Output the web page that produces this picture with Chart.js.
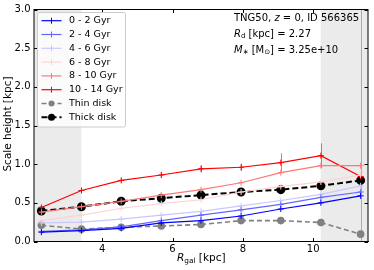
<!DOCTYPE html>
<html>
<head>
<meta charset="utf-8">
<script src="https://cdn.jsdelivr.net/npm/chart.js@4.4.1/dist/chart.umd.min.js"></script>
<style>
  body { margin: 0; background: #fff; }
  canvas { display: block; }
</style>
</head>
<body>
<canvas id="chart" width="374" height="270"></canvas>
<script>
// radii where scale heights were measured (kpc)
const rGal = [2.27, 3.41, 4.54, 5.68, 6.81, 7.95, 9.08, 10.22, 11.35];

// scale heights per stellar age bin (kpc)
const age0to2 = [0.12, 0.14, 0.17, 0.24, 0.27, 0.33, 0.42, 0.50, 0.59];
const age2to4 = [0.13, 0.15, 0.19, 0.27, 0.34, 0.41, 0.48, 0.57, 0.64];
const age4to6 = [0.24, 0.25, 0.29, 0.34, 0.39, 0.46, 0.53, 0.61, 0.72];
const age6to8 = [0.27, 0.34, 0.43, 0.49, 0.54, 0.64, 0.71, 0.77, 0.86];
const age8to10 = [0.38, 0.45, 0.52, 0.60, 0.67, 0.76, 0.89, 0.98, 0.98];
const age10to14 = [0.44, 0.66, 0.79, 0.86, 0.94, 0.96, 1.02, 1.11, 0.84];
const thinDisk = [0.21, 0.16, 0.185, 0.20, 0.22, 0.27, 0.27, 0.245, 0.095];
const thickDisk = [0.395, 0.45, 0.52, 0.56, 0.60, 0.64, 0.67, 0.72, 0.79];

// errors (kpc), only the visible ones
const err10to14 = [0.01, 0.03, 0.03, 0.04, 0.05, 0.05, 0.12, 0.16, 0.02];
const errThin = [0.02, 0.02, 0.02, 0.02, 0.02, 0.02, 0.04, 0.05, 5];

const labels = ['0 - 2 Gyr', '2 - 4 Gyr', '4 - 6 Gyr', '6 - 8 Gyr', '8 - 10 Gyr', '10 - 14 Gyr', 'Thin disk', 'Thick disk'];
const yTicks = [0, 0.5, 1.0, 1.5, 2.0, 2.5, 3.0];
const xTicks = [4, 6, 8, 10];

const Rd = 2.27;
const shadeLo = 1.5 * Rd;
const shadeHi = 4.5 * Rd;

const FONT = '"DejaVu Sans", sans-serif';

function pts(vals) {
    return rGal.map((r, i) => ({ x: r, y: vals[i] }));
}

function ageSet(label, vals, color, err) {
    return {
        label: label,
        data: pts(vals),
        borderColor: color,
        backgroundColor: color,
        borderWidth: 1.2,
        pointStyle: 'cross',
        pointRadius: 3,
        pointBorderWidth: 1,
        tension: 0,
        errors: err
    };
}

const datasets = [
    ageSet(labels[0], age0to2, 'rgb(0,0,255)'),
    ageSet(labels[1], age2to4, 'rgb(102,102,255)'),
    ageSet(labels[2], age4to6, 'rgb(200,200,255)'),
    ageSet(labels[3], age6to8, 'rgb(255,210,210)'),
    ageSet(labels[4], age8to10, 'rgb(255,120,120)'),
    ageSet(labels[5], age10to14, 'rgb(255,0,0)', err10to14),
    {
        label: labels[6],
        data: pts(thinDisk),
        borderColor: 'rgb(128,128,128)',
        backgroundColor: 'rgb(128,128,128)',
        borderWidth: 1.6,
        borderDash: [5, 3],
        pointRadius: 3,
        tension: 0,
        errors: errThin
    },
    {
        label: labels[7],
        data: pts(thickDisk),
        borderColor: '#000',
        backgroundColor: '#000',
        borderWidth: 2,
        borderDash: [6, 3],
        pointRadius: 3.5,
        tension: 0
    }
];

// grey bands, frame, inward ticks, error bars
const framePlugin = {
    id: 'frame',
    beforeDatasetsDraw(chart) {
        const { ctx, chartArea: a, scales: { x, y } } = chart;
        ctx.save();
        ctx.fillStyle = '#ebebeb';
        const lo = x.getPixelForValue(shadeLo);
        const hi = x.getPixelForValue(shadeHi);
        ctx.fillRect(a.left, a.top, lo - a.left, a.bottom - a.top);
        ctx.fillRect(hi, a.top, a.right - hi, a.bottom - a.top);

        ctx.beginPath();
        ctx.rect(a.left, a.top, a.right - a.left, a.bottom - a.top);
        ctx.clip();
        chart.data.datasets.forEach(ds => {
            if (!ds.errors) return;
            ctx.strokeStyle = ds.borderColor;
            ctx.globalAlpha = 0.6;
            ctx.lineWidth = 1;
            ds.data.forEach((p, i) => {
                const px = Math.round(x.getPixelForValue(p.x)) + 0.5;
                ctx.beginPath();
                ctx.moveTo(px, y.getPixelForValue(p.y - ds.errors[i]));
                ctx.lineTo(px, y.getPixelForValue(p.y + ds.errors[i]));
                ctx.stroke();
            });
        });
        ctx.restore();
    },
    afterDraw(chart) {
        const { ctx, chartArea: a, scales: { x, y } } = chart;
        ctx.save();
        ctx.strokeStyle = '#000';
        ctx.lineWidth = 1;
        ctx.strokeRect(a.left, a.top, a.right - a.left, a.bottom - a.top);
        const t = 3.5;
        ctx.beginPath();
        xTicks.forEach(v => {
            const px = Math.round(x.getPixelForValue(v)) + 0.5;
            ctx.moveTo(px, a.bottom); ctx.lineTo(px, a.bottom - t);
            ctx.moveTo(px, a.top); ctx.lineTo(px, a.top + t);
        });
        yTicks.forEach(v => {
            const py = Math.round(y.getPixelForValue(v)) + 0.5;
            ctx.moveTo(a.left, py); ctx.lineTo(a.left + t, py);
            ctx.moveTo(a.right, py); ctx.lineTo(a.right - t, py);
        });
        ctx.stroke();

        // axis titles
        ctx.fillStyle = '#000';
        ctx.textBaseline = 'middle';
        ctx.font = '10.5px ' + FONT;
        ctx.save();
        ctx.translate(8, 124);
        ctx.rotate(-Math.PI / 2);
        ctx.textAlign = 'center';
        ctx.fillText('Scale height [kpc]', 0, 0);
        ctx.restore();
        ctx.textAlign = 'left';
        drawRich(ctx, 177, 258.5, [
            { t: 'R', it: true }, { t: 'gal', sub: true }, { t: ' [kpc]' }
        ], 10.5);

        // annotation
        drawRich(ctx, 234, 18.5, [
            { t: 'TNG50, ' }, { t: 'z', it: true }, { t: ' = 0, ID 566365' }
        ], 10);
        drawRich(ctx, 234, 34, [
            { t: 'R', it: true }, { t: 'd', sub: true }, { t: ' [kpc] = 2.27' }
        ], 10);
        drawRich(ctx, 234, 50, [
            { t: 'M', it: true }, { t: '\u2217', sub: true }, { t: ' [M' }, { t: '\u2299', sub: true }, { t: '] = 3.25e+10' }
        ], 10);

        drawLegend(ctx, chart);
        ctx.restore();
    }
};

function drawRich(ctx, x, y, parts, size) {
    let cx = x;
    parts.forEach(p => {
        const s = p.sub ? size * 0.7 : size;
        ctx.font = (p.it ? 'italic ' : '') + s + 'px ' + FONT;
        ctx.fillText(p.t, cx, p.sub ? y + 2.5 : y);
        cx += ctx.measureText(p.t).width;
    });
}

function drawLegend(ctx, chart) {
    const bx = 37.5, by = 12.5, bw = 88, bh = 114.5;
    ctx.save();
    ctx.fillStyle = 'rgba(255,255,255,0.8)';
    ctx.strokeStyle = '#cccccc';
    ctx.lineWidth = 1;
    ctx.beginPath();
    ctx.roundRect(bx, by, bw, bh, 2);
    ctx.fill();
    ctx.stroke();
    chart.data.datasets.forEach((ds, i) => {
        const ry = 20.7 + i * 13.8;
        ctx.strokeStyle = ds.borderColor;
        ctx.fillStyle = ds.borderColor;
        ctx.lineWidth = ds.borderWidth;
        ctx.setLineDash(ds.borderDash || []);
        ctx.beginPath();
        ctx.moveTo(41.5, ry);
        ctx.lineTo(61.5, ry);
        ctx.stroke();
        ctx.setLineDash([]);
        if (ds.pointStyle === 'cross') {
            ctx.lineWidth = 1;
            ctx.beginPath();
            ctx.moveTo(51.5, ry - 3); ctx.lineTo(51.5, ry + 3);
            ctx.stroke();
        } else {
            ctx.beginPath();
            ctx.arc(51.5, ry, ds.pointRadius, 0, Math.PI * 2);
            ctx.fill();
        }
        ctx.fillStyle = '#000';
        ctx.font = '9.5px ' + FONT;
        ctx.textAlign = 'left';
        ctx.textBaseline = 'middle';
        ctx.fillText(ds.label, 69, ry);
    });
    ctx.restore();
}

new Chart(document.getElementById('chart'), {
    type: 'line',
    data: { datasets: datasets },
    options: {
        responsive: false,
        animation: false,
        layout: { padding: { top: 7.5, right: 3.5, left: 0, bottom: 0 } },
        plugins: { legend: { display: false }, tooltip: { enabled: false } },
        scales: {
            x: {
                type: 'linear',
                min: 2.06,
                max: 11.56,
                afterFit: s => { s.height = 28.5; },
                afterBuildTicks: s => { s.ticks = xTicks.map(v => ({ value: v })); },
                grid: { display: false, drawTicks: false },
                border: { display: true, color: '#000' },
                ticks: { color: '#000', padding: 2, font: { family: FONT, size: 10 } }
            },
            y: {
                min: 0,
                max: 3,
                afterFit: s => { s.width = 34; },
                afterBuildTicks: s => { s.ticks = yTicks.map(v => ({ value: v })); },
                grid: { display: false, drawTicks: false },
                border: { display: true, color: '#000' },
                ticks: {
                    color: '#000', padding: 3.5, font: { family: FONT, size: 10 },
                    callback: v => v.toFixed(1)
                }
            }
        }
    },
    plugins: [framePlugin]
});
</script>
</body>
</html>
